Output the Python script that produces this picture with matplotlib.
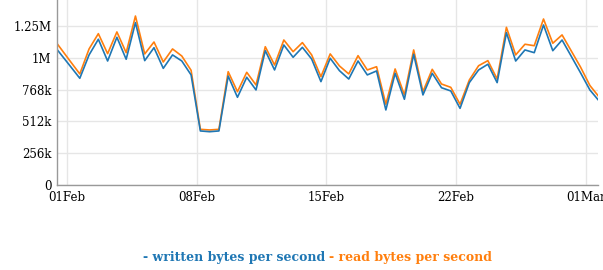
import numpy as np
import pandas as pd
import matplotlib
matplotlib.use("Agg")
import matplotlib.pyplot as plt
import matplotlib.dates as mdates

# samples every 12 hours, values in KiB/s
times = pd.date_range("2015-01-31 05:00", periods=60, freq="12h")

written_kib = [1142, 1048, 954, 859, 1047, 1173, 998, 1189, 1012, 1307,
               1001, 1105, 939, 1047, 998, 886, 435, 429, 435, 877,
               706, 867, 765, 1081, 926, 1127, 1028, 1108, 1014, 832,
               1020, 920, 853, 998, 886, 918, 604, 899, 690, 1052,
               725, 899, 783, 757, 617, 824, 926, 972, 824, 1226,
               998, 1087, 1065, 1288, 1081, 1167, 1035, 902, 765, 676]

read_kib = [1193, 1093, 993, 894, 1095, 1218, 1057, 1232, 1065, 1360,
            1055, 1151, 990, 1095, 1038, 923, 448, 443, 448, 912,
            751, 907, 805, 1113, 966, 1167, 1073, 1146, 1047, 872,
            1055, 958, 894, 1041, 926, 952, 650, 934, 725, 1087,
            751, 931, 813, 786, 650, 845, 960, 1001, 853, 1269,
            1047, 1133, 1121, 1336, 1141, 1208, 1078, 948, 801, 708]

y_ticks_kib = [0, 256, 512, 768, 1024, 1280]
y_tick_labels = ["0", "256k", "512k", "768k", "1M", "1.25M"]

blue = "#1f77b4"
orange = "#ff7f0e"

written = np.array(written_kib) * 1024
read = np.array(read_kib) * 1024

fig = plt.figure(figsize=(6.03, 2.70), dpi=100)
ax = fig.add_axes([57 / 603, 85 / 270, 541 / 603, 185 / 270])

ax.plot(times, read, color=orange, lw=1.2)
ax.plot(times, written, color=blue, lw=1.2)

ax.set_xlim(pd.Timestamp("2015-01-31 11:30"), pd.Timestamp("2015-03-01 15:30"))
ax.set_ylim(0, 1489 * 1024)

ax.set_yticks(np.array(y_ticks_kib) * 1024)
ax.set_yticklabels(y_tick_labels)
ax.xaxis.set_major_locator(mdates.DayLocator(bymonthday=[1, 8, 15, 22]))
ax.xaxis.set_major_formatter(mdates.DateFormatter("%d%b"))

ax.grid(True, color="#e6e6e6", lw=1)
ax.set_axisbelow(True)
for s in ["top", "right"]:
    ax.spines[s].set_visible(False)
for s in ["left", "bottom"]:
    ax.spines[s].set_color("#999999")
    ax.spines[s].set_linewidth(1)
ax.tick_params(length=0, pad=4, labelsize=8.5, colors="#000000")
for lab in ax.get_xticklabels() + ax.get_yticklabels():
    lab.set_family("DejaVu Serif")

fig.text(325 / 603, 1 - 258 / 270, "- written bytes per second", color=blue,
         ha="right", va="center", family="DejaVu Serif", weight="bold", fontsize=9)
fig.text(329 / 603, 1 - 258 / 270, "- read bytes per second", color=orange,
         ha="left", va="center", family="DejaVu Serif", weight="bold", fontsize=9)

fig.savefig("out.png", dpi=100)
